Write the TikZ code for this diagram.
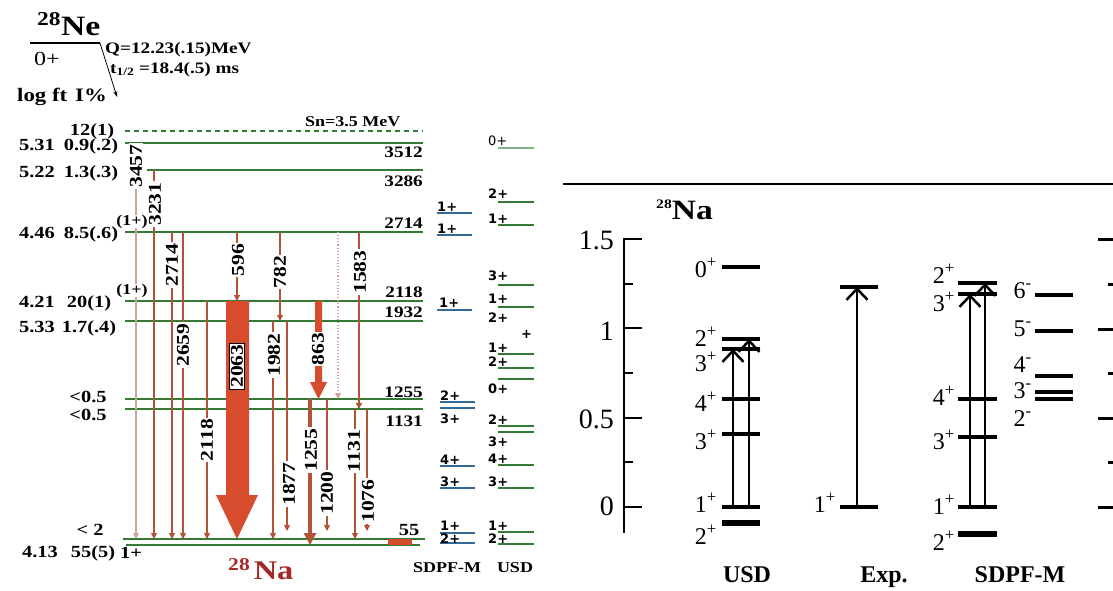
\documentclass[tikz,border=0pt]{standalone}
\usepackage{fontspec}
\setmainfont{Liberation Serif}
\newfontfamily\lft{Liberation Serif}[FakeStretch=1.2]
\newfontfamily\spn{DejaVu Sans}
\usetikzlibrary{arrows.meta}
\definecolor{levgreen}{RGB}{52,122,52}
\definecolor{sdblue}{RGB}{50,105,150}
\definecolor{gambrown}{RGB}{180,82,55}
\definecolor{gampale}{RGB}{205,165,155}
\definecolor{gamred}{RGB}{214,76,44}
\definecolor{nared}{RGB}{165,40,40}
\newcommand{\fsz}[1]{\fontsize{#1}{#1}\selectfont}

\begin{document}
\begin{tikzpicture}[x=1pt, y=-1pt, inner sep=0pt,
    lev/.style={draw=levgreen, line width=1.8pt},
    sdlev/.style={draw=sdblue, line width=1.6pt},
    uslev/.style={draw=levgreen, line width=1.6pt},
    gam/.style={draw=gambrown, line width=1.1pt, -{Triangle[length=6pt,width=6pt]}},
    glab/.style={fill=white, inner sep=1pt, rotate=90, font=\lft\bfseries\fsz{18}},
    lnum/.style={anchor=base east, font=\lft\bfseries\fsz{16}},
    lcol/.style={anchor=base, font=\lft\bfseries\fsz{17}},
    spl/.style={anchor=base west, font=\spn\bfseries\fsz{13}},
    rlev/.style={line width=3.5pt},
    rarr/.style={line width=2.5pt, -{Straight Barb[length=11pt,width=21pt]}},
    rspin/.style={anchor=base east, font=\fsz{24}},
    rtit/.style={anchor=base, font=\bfseries\fsz{24}}]
  \useasboundingbox (0,0) rectangle (1113,590);
  % parent 28Ne
  \node[anchor=base west, font=\lft\bfseries\fsz{28}] (ne) at (37,35) {\textsuperscript{28}Ne};
  \draw[line width=2.5pt] (30,43) -- (100,43);
  \node[anchor=base west, font=\lft\fsz{20}] (gsne) at (34,65) {0+};
  \draw[line width=0.8pt, -{Stealth[length=6pt,width=4pt]}] (100,43) -- (117,97);
  \node[anchor=base west, font=\lft\bfseries\fsz{16}] (qval) at (105,53) {Q=12.23(.15)MeV};
  \node[anchor=base west, font=\lft\bfseries\fsz{16}] (thalf) at (110,73) {t\textsubscript{1/2} =18.4(.5) ms};
  \node[anchor=base west, font=\lft\bfseries\fsz{19}] (logft) at (17,101) {log ft};
  \node[anchor=base west, font=\lft\bfseries\fsz{19}] (ipct) at (75,101) {I\%};
  \node[anchor=base west, font=\lft\bfseries\fsz{15}] (sn) at (305,126) {Sn=3.5 MeV};
  % levels of 28Na
  \draw[lev, dashed, dash pattern=on 5pt off 4pt] (125,131) -- (423,131);
  \draw[lev] (125,143) -- (423,143);
  \draw[lev] (147,170) -- (423,170);
  \draw[lev] (125,232) -- (423,232);
  \draw[lev] (125,301) -- (423,301);
  \draw[lev] (125,321) -- (423,321);
  \draw[lev] (125,399) -- (423,399);
  \draw[lev] (125,409) -- (423,409);
  \draw[lev] (123,539) -- (425,539);
  \draw[lev] (126,545) -- (420,545);
  \fill[gamred] (388,539) rectangle (412,545);
  \node[lnum] (l3512) at (423,157) {3512};
  \node[lnum] (l3286) at (423,186) {3286};
  \node[lnum] (l2714) at (423,228) {2714};
  \node[lnum] (l2118) at (423,297) {2118};
  \node[lnum] (l1932) at (423,317) {1932};
  \node[lnum] (l1255) at (423,397) {1255};
  \node[lnum] (l1131) at (423,426) {1131};
  \node[lcol] (l55) at (409,535) {55};
  % log ft and intensities
  \node[lcol] (i12) at (92,135) {12(1)};
  \node[lcol] (f531) at (37,150) {5.31};
  \node[lcol] (i09) at (91,150) {0.9(.2)};
  \node[lcol] (f522) at (37,177) {5.22};
  \node[lcol] (i13) at (91,177) {1.3(.3)};
  \node[lcol] (f446) at (37,238) {4.46};
  \node[lcol] (i85) at (91,238) {8.5(.6)};
  \node[lcol] (f421) at (37,307) {4.21};
  \node[lcol] (i20) at (89,307) {20(1)};
  \node[lcol] (f533) at (37,332) {5.33};
  \node[lcol] (i17) at (89,332) {1.7(.4)};
  \node[lcol] (i05a) at (88,402) {<0.5};
  \node[lcol] (i05b) at (88,420) {<0.5};
  \node[lcol] (i2) at (90,535) {< 2};
  \node[lcol] (f413) at (40,557) {4.13};
  \node[lcol] (i55) at (93,557) {55(5)};
  \node[lcol] (j0) at (131,558) {1+};
  % gamma transitions
  \draw[gam, draw=gampale] (136,143) -- (136,539);
  \draw[gam] (154,170) -- (154,539);
  \draw[gam] (172,232) -- (172,539);
  \draw[gam] (183,232) -- (183,539);
  \draw[gam] (207,301) -- (207,539);
  \draw[gam] (237,232) -- (237,301);
  \draw[gam] (280,232) -- (280,321);
  \draw[gam] (273,321) -- (273,539);
  \draw[gam] (287,321) -- (287,531);
  \draw[gam, draw=gampale, dotted] (338,232) -- (338,399);
  \draw[gam, line width=2.2pt] (359,232) -- (359,409);
  \draw[gam, line width=3.5pt, -{Triangle[length=12pt,width=12pt]}] (310,399) -- (310,545);
  \draw[gam] (327,399) -- (327,531);
  \draw[gam] (355,409) -- (355,539);
  \draw[gam] (367,409) -- (367,531);
  \fill[gamred] (226,301) -- (249,301) -- (249,495) -- (258,495) -- (237,539) -- (216,495) -- (226,495) -- cycle;
  \fill[gamred] (315,301) -- (322,301) -- (322,382) -- (327,382) -- (318.5,399) -- (310,382) -- (315,382) -- cycle;
  \node[glab] (t3457) at (136,166) {3457};
  \node[glab] (t3231) at (155,204) {3231};
  \node[glab] (t2714) at (172,265) {2714};
  \node[glab] (t2659) at (183,345) {2659};
  \node[glab] (t2118) at (207,440) {2118};
  \node[glab] (t596) at (238,260) {596};
  \node[glab, inner sep=1.5pt, draw=black, line width=0.4pt] (t2063) at (237,366) {2063};
  \node[glab] (t782) at (280,272) {782};
  \node[glab] (t1982) at (274,355) {1982};
  \node[glab] (t1877) at (289,484) {1877};
  \node[glab] (t863) at (318,349) {863};
  \node[glab] (t1583) at (360,272) {1583};
  \node[glab] (t1255) at (311,450) {1255};
  \node[glab] (t1200) at (327,493) {1200};
  \node[glab] (t1131) at (354,451) {1131};
  \node[glab] (t1076) at (368,501) {1076};
  \node[lcol, fill=white, font=\lft\bfseries\fsz{15}] (j2714) at (132,225) {(1+)};
  \node[lcol, fill=white, font=\lft\bfseries\fsz{15}] (j2118) at (132,294) {(1+)};
  \node[anchor=base west, font=\lft\bfseries\fsz{27}, text=nared] (na) at (228,579) {\raisebox{9pt}{\fsz{18}28}\hspace{4pt}Na};
  % shell model columns
  \draw[sdlev] (437,213) -- (472,213);
  \draw[sdlev] (437,235) -- (472,235);
  \draw[sdlev] (437,310) -- (472,310);
  \draw[sdlev] (440,402) -- (475,402);
  \draw[sdlev] (440,408) -- (475,408);
  \draw[sdlev] (440,466) -- (475,466);
  \draw[sdlev] (440,488) -- (475,488);
  \draw[sdlev] (440,533) -- (475,533);
  \draw[sdlev] (440,543) -- (475,543);
  \node[spl] (s1) at (437,211) {1+};
  \node[spl] (s2) at (437,233) {1+};
  \node[spl] (s3) at (439,307) {1+};
  \node[spl] (s4) at (440,400) {2+};
  \node[spl] (s5) at (440,423) {3+};
  \node[spl] (s6) at (440,464) {4+};
  \node[spl] (s7) at (440,486) {3+};
  \node[spl] (s8) at (440,530) {1+};
  \node[spl] (s9) at (440,543) {2+};
  \draw[uslev, draw=levgreen!60] (498,148) -- (534,148);
  \draw[uslev] (498,202) -- (534,202);
  \draw[uslev] (498,225) -- (534,225);
  \draw[uslev] (498,285) -- (534,285);
  \draw[uslev] (498,307) -- (534,307);
  \draw[uslev] (498,354) -- (534,354);
  \draw[uslev] (498,368) -- (534,368);
  \draw[uslev] (498,379) -- (534,379);
  \draw[uslev] (498,426) -- (534,426);
  \draw[uslev] (498,432) -- (534,432);
  \draw[uslev] (498,465) -- (534,465);
  \draw[uslev] (498,488) -- (534,488);
  \draw[uslev] (498,532) -- (534,532);
  \draw[uslev] (498,544) -- (534,544);
  \node[spl, font=\spn\fsz{13}] (u1) at (488,145) {0+};
  \node[spl] (u2) at (488,198) {2+};
  \node[spl] (u3) at (488,223) {1+};
  \node[spl] (u4) at (488,280) {3+};
  \node[spl] (u5) at (488,303) {1+};
  \node[spl] (u6) at (488,322) {2+};
  \node[spl] (u7) at (521,338) {+};
  \node[spl] (u8) at (488,352) {1+};
  \node[spl] (u9) at (488,366) {2+};
  \node[spl] (u10) at (488,393) {0+};
  \node[spl] (u11) at (488,424) {2+};
  \node[spl] (u12) at (488,446) {3+};
  \node[spl] (u13) at (488,463) {4+};
  \node[spl] (u14) at (488,486) {3+};
  \node[spl] (u15) at (488,530) {1+};
  \node[spl] (u16) at (488,543) {2+};
  \node[anchor=base, font=\lft\bfseries\fsz{15}] (tsd) at (447,572) {SDPF-M};
  \node[anchor=base, font=\lft\bfseries\fsz{15}] (tus) at (515,572) {USD};
  % right panel
  \draw[line width=2.5pt] (563,184) -- (1113,184);
  \node[anchor=base west, font=\lft\bfseries\fsz{28}] (nar) at (656,219) {\raisebox{11pt}{\fsz{13}28}Na};
  \draw[line width=2.5pt] (624,238) -- (624,533);
  \draw[line width=2.5pt] (624,239) -- (642,239);
  \draw[line width=2.5pt] (624,284) -- (633,284);
  \draw[line width=2.5pt] (624,328) -- (642,328);
  \draw[line width=2.5pt] (624,373) -- (633,373);
  \draw[line width=2.5pt] (624,418) -- (642,418);
  \draw[line width=2.5pt] (624,462) -- (633,462);
  \draw[line width=2.5pt] (624,507) -- (642,507);
  \node[anchor=base east, font=\fsz{28}] (a15) at (614,249) {1.5};
  \node[anchor=base east, font=\fsz{28}] (a1) at (614,340) {1};
  \node[anchor=base east, font=\fsz{28}] (a05) at (614,428) {0.5};
  \node[anchor=base east, font=\fsz{28}] (a0) at (614,515) {0};
  \draw[rlev] (722,267) -- (760,267);
  \draw[rlev] (722,339) -- (760,339);
  \draw[rlev] (722,349) -- (760,349);
  \draw[rlev] (722,399) -- (760,399);
  \draw[rlev] (722,434) -- (760,434);
  \draw[rlev] (722,507) -- (760,507);
  \draw[rlev, line width=5.5pt] (722,523) -- (760,523);
  \draw[rarr] (733,507) -- (733,349);
  \draw[rarr] (749,507) -- (749,339);
  \node[rspin] (r0) at (717,277) {0\textsuperscript{+}};
  \node[rspin] (r2) at (717,346) {2\textsuperscript{+}};
  \node[rspin] (r3) at (717,371) {3\textsuperscript{+}};
  \node[rspin] (r4) at (717,411) {4\textsuperscript{+}};
  \node[rspin] (r3b) at (717,449) {3\textsuperscript{+}};
  \node[rspin] (r1) at (717,512) {1\textsuperscript{+}};
  \node[rspin] (r2b) at (717,544) {2\textsuperscript{+}};
  \draw[rlev] (840,287) -- (878,287);
  \draw[rlev] (840,507) -- (878,507);
  \draw[rarr] (857,507) -- (857,287);
  \node[rspin] (x1) at (836,512) {1\textsuperscript{+}};
  \draw[rlev] (958,283) -- (997,283);
  \draw[rlev] (958,294) -- (997,294);
  \draw[rlev] (958,399) -- (997,399);
  \draw[rlev] (958,437) -- (997,437);
  \draw[rlev] (958,507) -- (997,507);
  \draw[rlev, line width=5.5pt] (958,534) -- (997,534);
  \draw[rarr] (970,507) -- (970,294);
  \draw[rarr] (985,507) -- (985,283);
  \node[rspin] (m2) at (955,283) {2\textsuperscript{+}};
  \node[rspin] (m3) at (955,311) {3\textsuperscript{+}};
  \node[rspin] (m4) at (955,405) {4\textsuperscript{+}};
  \node[rspin] (m3b) at (955,449) {3\textsuperscript{+}};
  \node[rspin] (m1) at (955,514) {1\textsuperscript{+}};
  \node[rspin] (m2b) at (955,550) {2\textsuperscript{+}};
  \draw[rlev] (1035,295) -- (1073,295);
  \draw[rlev] (1035,331) -- (1073,331);
  \draw[rlev] (1035,376) -- (1073,376);
  \draw[rlev] (1035,392) -- (1073,392);
  \draw[rlev] (1035,399) -- (1073,399);
  \node[rspin] (n6) at (1032,298) {6\textsuperscript{-}};
  \node[rspin] (n5) at (1032,336) {5\textsuperscript{-}};
  \node[rspin] (n4) at (1032,372) {4\textsuperscript{-}};
  \node[rspin] (n3) at (1032,398) {3\textsuperscript{-}};
  \node[rspin] (n2) at (1032,426) {2\textsuperscript{-}};
  \draw[line width=3pt] (1098,239) -- (1113,239);
  \draw[line width=3pt] (1108,284) -- (1113,284);
  \draw[line width=3pt] (1098,329) -- (1113,329);
  \draw[line width=3pt] (1108,373) -- (1113,373);
  \draw[line width=3pt] (1098,418) -- (1113,418);
  \draw[line width=3pt] (1108,462) -- (1113,462);
  \draw[line width=3pt] (1098,507) -- (1113,507);
  \node[rtit] (bus) at (747,582) {USD};
  \node[rtit] (bex) at (884,582) {Exp.};
  \node[rtit] (bsd) at (1020,582) {SDPF-M};
\end{tikzpicture}
\end{document}
